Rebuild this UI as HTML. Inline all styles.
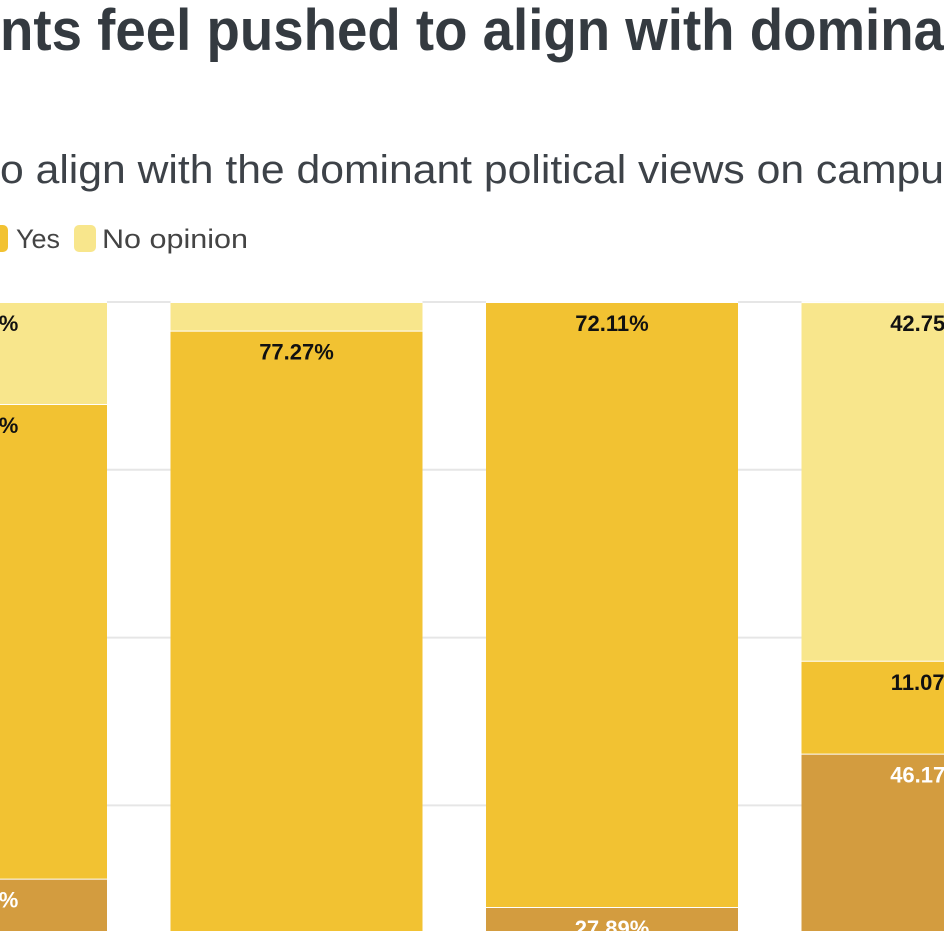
<!DOCTYPE html>
<html><head><meta charset="utf-8"><style>
html,body{margin:0;padding:0;background:#fff;overflow:hidden;width:944px;height:931px}
svg{display:block;font-family:"Liberation Sans",sans-serif}
</style></head><body>
<svg id="chart" width="944" height="931" viewBox="0 0 944 931">
<text x="0" y="50" font-size="58" font-weight="bold" fill="#343a40" textLength="944" lengthAdjust="spacingAndGlyphs">nts feel pushed to align with domina</text>
<text x="0" y="183" font-size="40" fill="#3d4248" textLength="944" lengthAdjust="spacingAndGlyphs">o align with the dominant political views on campu</text>
<g>
<g><rect x="-14" y="225" width="22" height="27" rx="5" fill="#f2c232"/><text x="16" y="248" font-size="27" fill="#444" textLength="44" lengthAdjust="spacingAndGlyphs">Yes</text></g>
<g><rect x="74" y="225" width="22" height="27" rx="5" fill="#f8e68c"/><text x="102" y="248" font-size="27" fill="#444" textLength="146" lengthAdjust="spacingAndGlyphs">No opinion</text></g>
</g>
<g id="grid"></g>
<g id="bars"></g>
</svg>
<script>
const categories = ["Group A","Group B","Group C","Group D"];
const noValues = [31.27, 19.32, 27.89, 46.17];
const yesValues = [56.57, 77.27, 72.11, 11.07];
const noOpinionValues = [12.16, 3.41, 0, 42.75];
const gridTicks = [100, 80, 60, 40, 20];

const NS = "http://www.w3.org/2000/svg";
const plotTop = 302, pxPerPct = 8.39, bandStart = -145, bandStep = 315.5, barW = 252, H = 931;
const y = v => plotTop + (100 - v) * pxPerPct;
const x = i => bandStart + i * bandStep;

const grid = document.getElementById('grid');
gridTicks.forEach(t => {
  const l = document.createElementNS(NS, 'line');
  l.setAttribute('x1', 0); l.setAttribute('x2', 944);
  l.setAttribute('y1', y(t)); l.setAttribute('y2', y(t));
  l.setAttribute('stroke', '#e6e6e6'); l.setAttribute('stroke-width', 2);
  
  
  grid.appendChild(l);
});

const bars = document.getElementById('bars');
const series = [
  {vals: noValues, color: '#d39c3f', text: '#fff', name: 'no'},
  {vals: yesValues, color: '#f2c232', text: '#111', name: 'yes'},
  {vals: noOpinionValues, color: '#f8e68c', text: '#111', name: 'no-opinion'}
];
categories.forEach((c, i) => {
  let base = 0;
  series.forEach(s => {
    const v = s.vals[i];
    if (v <= 0) return;
    const top = y(base + v), bot = Math.min(y(base), H);
    base += v;
    if (top >= H) return;
    const x0 = Math.max(x(i), 0), x1 = Math.min(x(i) + barW, 944);
    const r = document.createElementNS(NS, 'rect');
    r.setAttribute('x', x0); r.setAttribute('width', x1 - x0);
    r.setAttribute('y', top); r.setAttribute('height', bot - top);
    r.setAttribute('fill', s.color);
    
    
    bars.appendChild(r);
    const sep = document.createElementNS(NS, 'line');
    sep.setAttribute('x1', x0); sep.setAttribute('x2', x1);
    sep.setAttribute('y1', top); sep.setAttribute('y2', top);
    sep.setAttribute('stroke', '#fff'); sep.setAttribute('stroke-width', 2);
    
    
    bars.appendChild(sep);
    if (v >= 5) {
      const t = document.createElementNS(NS, 'text');
      t.setAttribute('x', x(i) + barW / 2); t.setAttribute('y', top + 29);
      t.setAttribute('text-anchor', 'middle');
      t.setAttribute('font-size', 22); t.setAttribute('font-weight', 'bold');
      t.setAttribute('fill', s.text);
      t.textContent = v.toFixed(2) + '%';
      
      
      bars.appendChild(t);
    }
  });
});
</script>
</body></html>
